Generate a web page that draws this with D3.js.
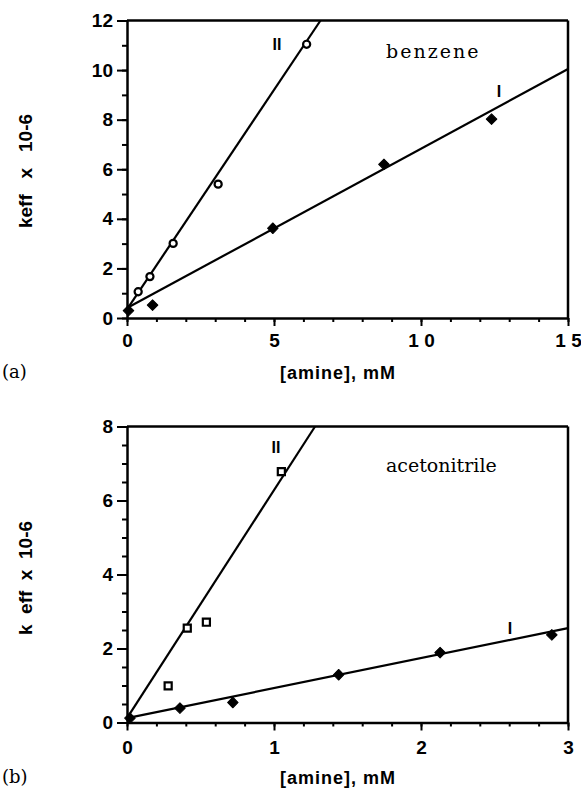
<!DOCTYPE html>
<html>
<head>
<meta charset="utf-8">
<script src="https://cdn.jsdelivr.net/npm/d3@7"></script>
<style>
  body { margin: 0; background: #fff; }
  svg { display: block; }
  .ttl { font-family: "Liberation Sans", Arial, sans-serif; font-weight: bold; fill: #000; white-space: pre; }
  .serif { font-family: "DejaVu Serif", "Liberation Serif", serif; fill: #000; }
</style>
</head>
<body>
<svg id="chart" width="581" height="788"></svg>
<script>
// ---- data ----
// panel (a): benzene, x in mM, y = keff x 10-6
var benzeneI  = [[0.05, 0.30], [0.87, 0.52], [4.96, 3.62], [8.74, 6.20], [12.4, 8.02]];
var benzeneII = [[0.38, 1.06], [0.78, 1.67], [1.57, 3.01], [3.10, 5.40], [6.11, 11.04]];
var benzeneFitI  = [0.40, 0.643];   // intercept, slope
var benzeneFitII = [0.35, 1.77];
var benzeneXTicks = [0, 5, 10, 15];
var benzeneYTicks = [0, 2, 4, 6, 8, 10, 12];

// panel (b): acetonitrile
var acnI  = [[0.02, 0.12], [0.36, 0.39], [0.72, 0.54], [1.44, 1.29], [2.13, 1.89], [2.89, 2.37]];
var acnII = [[0.28, 0.99], [0.41, 2.55], [0.54, 2.71], [1.05, 6.78]];
var acnFitI  = [0.12, 0.81];
var acnFitII = [0.12, 6.16];
var acnXTicks = [0, 1, 2, 3];
var acnYTicks = [0, 2, 4, 6, 8];

var svg = d3.select("#chart");

function panel(o) {
  var x = d3.scaleLinear().domain(o.xDom).range([127, 568]);
  var y = d3.scaleLinear().domain(o.yDom).range([o.bottom, o.top]);
  var g = svg.append("g");

  // minor ticks
  g.append("g").attr("transform", "translate(127,0)")
    .call(d3.axisLeft(y).tickValues(d3.range(o.yDom[0], o.yDom[1] + 1e-9, o.yMinor)).tickSize(5).tickFormat(""))
    .call(function(a) { a.select(".domain").remove(); });
  g.append("g").attr("transform", "translate(0," + o.bottom + ")")
    .call(d3.axisBottom(x).tickValues(d3.range(o.xDom[0], o.xDom[1] + 1e-9, o.xMinor)).tickSize(4).tickFormat(""))
    .call(function(a) { a.select(".domain").remove(); });

  // major axes
  g.append("g").attr("transform", "translate(127,0)")
    .call(d3.axisLeft(y).tickValues(o.yTicks).tickSize(10).tickPadding(4).tickSizeOuter(0));
  g.append("g").attr("transform", "translate(0," + o.bottom + ")")
    .call(d3.axisBottom(x).tickValues(o.xTicks).tickSize(8).tickPadding(o.xPad).tickSizeOuter(0)
      .tickFormat(function(d) { return String(d).split("").join(" "); }));

  g.selectAll(".tick line").attr("stroke", "#000").attr("stroke-width", 2);
  g.selectAll(".tick text")
    .style("fill", "#000")
    .style("font-family", "'Liberation Sans', Arial, sans-serif")
    .style("font-weight", "bold")
    .style("font-size", "19px");
  g.selectAll(".domain").attr("stroke", "#000").attr("stroke-width", 2.5);

  // top and right frame
  g.append("line").attr("x1", 127).attr("x2", 568).attr("y1", o.top).attr("y2", o.top)
    .attr("stroke", "#000").attr("stroke-width", 2.5);
  g.append("line").attr("x1", 568).attr("x2", 568).attr("y1", o.top).attr("y2", o.bottom)
    .attr("stroke", "#000").attr("stroke-width", 2.5);

  // fit lines, stopped at the frame
  [o.fitI, o.fitII].forEach(function(f) {
    var xEnd = Math.min(o.xDom[1], (o.yDom[1] - f[0]) / f[1]);
    g.append("line")
      .attr("x1", x(0)).attr("y1", y(f[0]))
      .attr("x2", x(xEnd)).attr("y2", y(f[0] + f[1] * xEnd))
      .attr("stroke", "#000").attr("stroke-width", 2.2);
  });

  // series I: filled diamonds
  g.selectAll(".p1").data(o.dataI).join("path")
    .attr("d", d3.symbol(d3.symbolSquare, 56))
    .attr("transform", function(d) { return "translate(" + x(d[0]) + "," + y(d[1]) + ") rotate(45)"; })
    .attr("fill", "#000").attr("stroke", "#000").attr("stroke-width", 1).attr("stroke-linejoin", "round");

  // series II: open markers
  g.selectAll(".p2").data(o.dataII).join("path")
    .attr("d", d3.symbol(o.openSym, o.openSize))
    .attr("transform", function(d) { return "translate(" + x(d[0]) + "," + y(d[1]) + ")"; })
    .attr("fill", "#fff").attr("stroke", "#000").attr("stroke-width", 2.2);

  // line labels
  g.append("text").attr("class", "ttl").attr("x", o.lblII[0]).attr("y", o.lblII[1])
    .attr("font-size", 16).attr("text-anchor", "middle").text("II");
  g.append("text").attr("class", "ttl").attr("x", o.lblI[0]).attr("y", o.lblI[1])
    .attr("font-size", 16).attr("text-anchor", "middle").text("I");

  // solvent
  g.append("text").attr("class", "serif").attr("x", 386).attr("y", o.solventY)
    .attr("font-size", 19).attr("letter-spacing", o.solventLs).text(o.solvent);

  // titles
  g.append("text").attr("class", "ttl").attr("font-size", 18).attr("letter-spacing", 1)
    .attr("x", 338).attr("y", o.bottom + 61).attr("text-anchor", "middle").text("[amine], mM");
  g.append("text").attr("class", "ttl").attr("font-size", 19)
    .attr("transform", "translate(32," + o.yTitleY + ") rotate(-90)")
    .attr("text-anchor", "middle").text(o.yTitle);
  g.append("text").attr("class", "serif").attr("font-size", 18)
    .attr("x", 2).attr("y", o.bottom + 60).text(o.tag);
}

panel({
  xDom: [0, 15], yDom: [0, 12], top: 20.5, bottom: 318,
  xTicks: benzeneXTicks, yTicks: benzeneYTicks, xMinor: 1, yMinor: 1, xPad: 8,
  dataI: benzeneI, dataII: benzeneII, fitI: benzeneFitI, fitII: benzeneFitII,
  openSym: d3.symbolCircle, openSize: 40,
  lblII: [277, 50], lblI: [499, 97],
  solvent: "benzene", solventY: 58, solventLs: 2,
  yTitle: "keff   x   10-6", yTitleY: 171, tag: "(a)"
});

panel({
  xDom: [0, 3], yDom: [0, 8], top: 426.5, bottom: 722.5,
  xTicks: acnXTicks, yTicks: acnYTicks, xMinor: 0.2, yMinor: 0.5, xPad: 10,
  dataI: acnI, dataII: acnII, fitI: acnFitI, fitII: acnFitII,
  openSym: d3.symbolSquare, openSize: 50,
  lblII: [276, 453], lblI: [510, 634],
  solvent: "acetonitrile", solventY: 472, solventLs: 0,
  yTitle: "k  eff  x  10-6", yTitleY: 578, tag: "(b)"
});
</script>
</body>
</html>
